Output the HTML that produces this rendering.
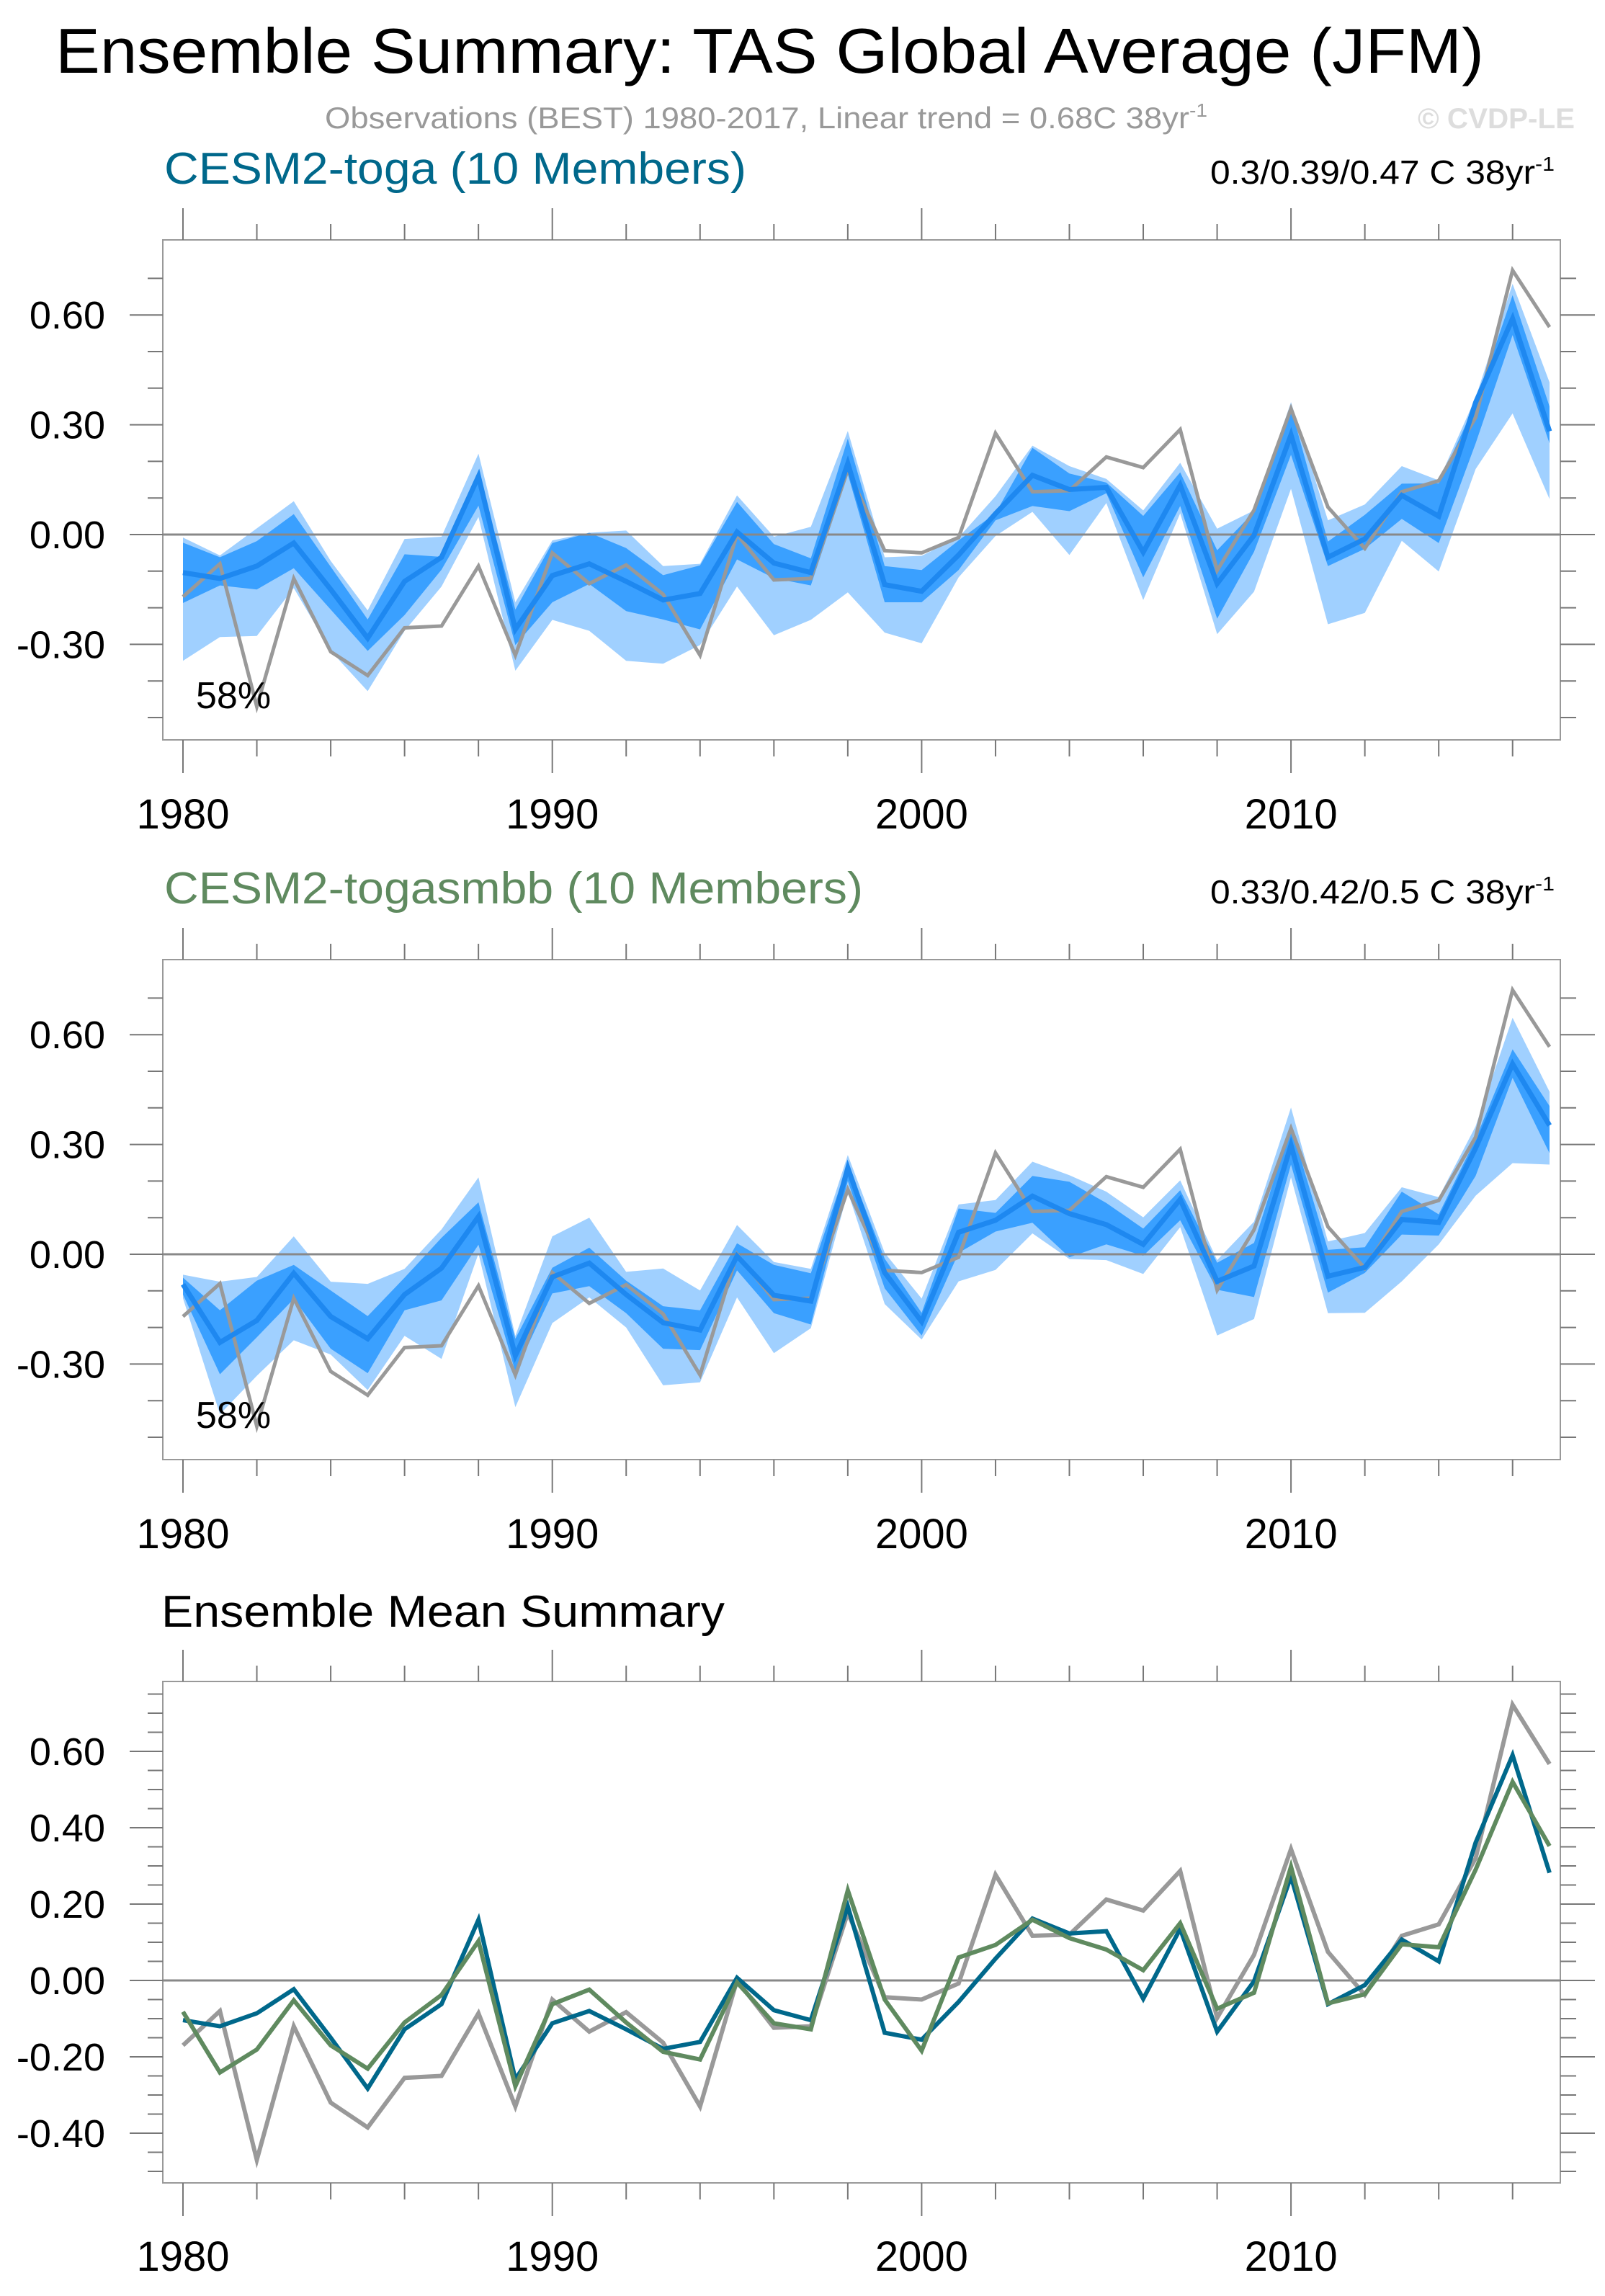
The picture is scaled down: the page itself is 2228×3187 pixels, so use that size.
<!DOCTYPE html>
<html><head><meta charset="utf-8"><title>Ensemble Summary: TAS Global Average (JFM)</title>
<style>html,body{margin:0;padding:0;background:#fff;}svg{display:block;font-family:"Liberation Sans",sans-serif;}</style>
</head><body>
<svg id="chart" width="2228" height="3187" viewBox="0 0 2228 3187" xmlns="http://www.w3.org/2000/svg">
<text x="77" y="101" font-size="88" textLength="1983" lengthAdjust="spacingAndGlyphs">Ensemble Summary: TAS Global Average (JFM)</text>
<text x="451" y="178" font-size="42" fill="#999" textLength="1225" lengthAdjust="spacingAndGlyphs">Observations (BEST) 1980-2017, Linear trend = 0.68C 38yr<tspan dy="-16" font-size="26">-1</tspan></text>
<text x="1968" y="178" font-size="40" font-weight="bold" fill="#ddd" textLength="218" lengthAdjust="spacingAndGlyphs">© CVDP-LE</text>
<text x="228" y="255" font-size="62" fill="#00688b" textLength="808" lengthAdjust="spacingAndGlyphs">CESM2-toga (10 Members)</text>
<text x="1680" y="255" font-size="46" textLength="478" lengthAdjust="spacingAndGlyphs">0.3/0.39/0.47 C 38yr<tspan dy="-18" font-size="28">-1</tspan></text>
<text x="228" y="1254" font-size="62" fill="#5f8a5f" textLength="970" lengthAdjust="spacingAndGlyphs">CESM2-togasmbb (10 Members)</text>
<text x="1680" y="1254" font-size="46" textLength="478" lengthAdjust="spacingAndGlyphs">0.33/0.42/0.5 C 38yr<tspan dy="-18" font-size="28">-1</tspan></text>
<text x="224" y="2258" font-size="62" textLength="782" lengthAdjust="spacingAndGlyphs">Ensemble Mean Summary</text>
<g id="layer"></g>
</svg>
<script>
const years = [];
for (let y = 1980; y <= 2017; y++) years.push(y);
const obs = [-0.17,-0.08,-0.47,-0.12,-0.32,-0.385,-0.255,-0.25,-0.086,-0.33,-0.05,-0.134,-0.083,-0.163,-0.33,0.0,-0.124,-0.12,0.177,-0.044,-0.05,-0.008,0.277,0.117,0.12,0.212,0.183,0.287,-0.098,0.067,0.344,0.075,-0.038,0.117,0.147,0.32,0.722,0.567];
const togaMean = [-0.104,-0.12,-0.086,-0.023,-0.15,-0.283,-0.128,-0.062,0.159,-0.259,-0.112,-0.08,-0.128,-0.179,-0.161,0.007,-0.078,-0.104,0.194,-0.137,-0.155,-0.056,0.057,0.162,0.123,0.129,-0.048,0.135,-0.134,-0.002,0.272,-0.062,-0.012,0.107,0.05,0.361,0.59,0.282];
const smbbMean = [-0.082,-0.241,-0.181,-0.052,-0.17,-0.231,-0.11,-0.038,0.103,-0.277,-0.062,-0.024,-0.11,-0.187,-0.207,-0.005,-0.112,-0.128,0.236,-0.05,-0.184,0.06,0.093,0.159,0.111,0.081,0.027,0.15,-0.074,-0.032,0.298,-0.06,-0.036,0.095,0.087,0.29,0.52,0.352];
const togaMax = [-0.008,-0.057,0.017,0.091,-0.072,-0.207,-0.012,-0.006,0.221,-0.185,-0.016,0.005,0.011,-0.086,-0.08,0.107,-0.006,0.021,0.283,-0.062,-0.058,-0.008,0.105,0.243,0.187,0.152,0.066,0.196,0.016,0.066,0.362,0.039,0.082,0.187,0.148,0.374,0.685,0.416];
const togaQ3 = [-0.022,-0.062,-0.018,0.056,-0.088,-0.232,-0.054,-0.061,0.169,-0.205,-0.023,0.005,-0.037,-0.111,-0.084,0.089,-0.026,-0.065,0.262,-0.086,-0.097,-0.016,0.058,0.237,0.167,0.142,0.051,0.17,-0.043,0.062,0.346,-0.019,0.054,0.139,0.14,0.358,0.654,0.35];
const togaQ1 = [-0.187,-0.139,-0.15,-0.092,-0.205,-0.318,-0.22,-0.096,0.079,-0.302,-0.185,-0.135,-0.209,-0.232,-0.259,-0.068,-0.119,-0.139,0.165,-0.185,-0.185,-0.097,0.039,0.078,0.064,0.113,-0.117,0.078,-0.23,-0.047,0.218,-0.086,-0.039,0.043,-0.023,0.249,0.545,0.249];
const togaMin = [-0.345,-0.28,-0.277,-0.146,-0.318,-0.428,-0.263,-0.142,0.048,-0.372,-0.233,-0.263,-0.345,-0.353,-0.302,-0.142,-0.275,-0.233,-0.158,-0.268,-0.297,-0.117,-0.004,0.062,-0.056,0.086,-0.179,0.058,-0.272,-0.156,0.125,-0.245,-0.214,-0.017,-0.101,0.179,0.331,0.097];
const smbbMax = [-0.056,-0.075,-0.062,0.049,-0.075,-0.081,-0.04,0.068,0.21,-0.223,0.049,0.1,-0.048,-0.039,-0.099,0.08,-0.021,-0.04,0.271,0.004,-0.121,0.136,0.148,0.253,0.216,0.171,0.101,0.202,-0.016,0.089,0.401,0.035,0.058,0.183,0.156,0.35,0.646,0.444];
const smbbQ3 = [-0.064,-0.153,-0.072,-0.029,-0.099,-0.169,-0.064,0.045,0.142,-0.231,-0.037,0.018,-0.072,-0.142,-0.153,0.03,-0.029,-0.052,0.247,-0.012,-0.16,0.125,0.113,0.214,0.198,0.14,0.07,0.175,-0.023,0.031,0.35,0.012,0.019,0.171,0.109,0.315,0.56,0.405];
const smbbQ1 = [-0.11,-0.328,-0.227,-0.122,-0.258,-0.325,-0.153,-0.126,0.026,-0.321,-0.107,-0.087,-0.161,-0.258,-0.262,-0.044,-0.161,-0.192,0.2,-0.093,-0.222,0.004,0.062,0.086,-0.008,0.027,-0.004,0.093,-0.097,-0.117,0.245,-0.105,-0.051,0.054,0.051,0.214,0.482,0.276];
const smbbMin = [-0.12,-0.437,-0.332,-0.235,-0.274,-0.371,-0.223,-0.286,0.002,-0.418,-0.188,-0.118,-0.2,-0.358,-0.35,-0.118,-0.27,-0.202,0.17,-0.136,-0.233,-0.074,-0.043,0.057,-0.013,-0.016,-0.054,0.074,-0.222,-0.177,0.21,-0.161,-0.16,-0.074,0.027,0.16,0.249,0.245];
const yearTicks = [1980,1990,2000,2010];
const ticks12 = [-0.3,0,0.3,0.6];
const ticks3 = [-0.4,-0.2,0,0.2,0.4,0.6];

const NS = "http://www.w3.org/2000/svg";
const layer = document.getElementById('layer');
const X0 = 226, X1 = 2166;
function xs(yr){ return 254 + (yr - 1980) * 51.27; }
function mk(tag, attrs, parent){
  const e = document.createElementNS(NS, tag);
  for (const k in attrs) e.setAttribute(k, attrs[k]);
  (parent || layer).appendChild(e);
  return e;
}
function pts(vals, ys){ return vals.map((v,i)=> xs(years[i]).toFixed(1)+','+ys(v).toFixed(1)).join(' '); }
function band(hi, lo, ys){
  const a = hi.map((v,i)=> xs(years[i]).toFixed(1)+','+ys(v).toFixed(1));
  const b = lo.map((v,i)=> xs(years[i]).toFixed(1)+','+ys(v).toFixed(1)).reverse();
  return a.concat(b).join(' ');
}

function panel(p){
  const g = mk('g', {});
  
  
  const ys = v => p.zero - v * p.ppu;
  const box = mk('rect', {x:X0, y:p.top, width:X1-X0, height:p.bottom-p.top, fill:'none', stroke:'#999', 'stroke-width':2}, g);
  
  
  for (let k = 0; ; k++){
    const v = Math.round((p.minorStart + k*p.minorStep)*1000)/1000;
    if (v > p.minorEnd + 1e-6) break;
    const y = ys(v);
    const isMajor = p.major.some(m => Math.abs(m - v) < 1e-6);
    const t1 = mk('line', {x1: isMajor?180:205, x2:X0, y1:y, y2:y, stroke:'#777', 'stroke-width':2}, g);
    
    
    const t2 = mk('line', {x1:X1, x2: isMajor?2214:2188, y1:y, y2:y, stroke:'#777', 'stroke-width':2}, g);
    
    
  }
  p.major.forEach(v => {
    const t = mk('text', {x:146, y:ys(v)+19, 'font-size':54, 'text-anchor':'end'}, g);
    t.textContent = v.toFixed(2);
    
    
  });
  for (let yr = 1980; yr <= 2017; yr += 2){
    const x = xs(yr);
    const isMajor = yr % 10 === 0;
    const a = mk('line', {x1:x, x2:x, y1:p.top - (isMajor?44:22), y2:p.top, stroke:'#777', 'stroke-width':2}, g);
    
    
    const b = mk('line', {x1:x, x2:x, y1:p.bottom, y2:p.bottom + (isMajor?46:23), stroke:'#777', 'stroke-width':2}, g);
    
    
  }
  yearTicks.forEach(yr => {
    const t = mk('text', {x:xs(yr), y:p.labelY, 'font-size':58, 'text-anchor':'middle'}, g);
    t.textContent = yr;
    
    
  });
  if (p.max){
    const l = mk('polygon', {points: band(p.max, p.min, ys), fill:'#a0d0ff'}, g);
    
    
    const d = mk('polygon', {points: band(p.q3, p.q1, ys), fill:'#3aa0ff'}, g);
    
    
  }
  const z = mk('line', {x1:X0, x2:X1, y1:ys(0), y2:ys(0), stroke:'#888', 'stroke-width':3}, g);
  
  
  p.lines.forEach(L => {
    const pl = mk('polyline', {points: pts(L.vals, ys), fill:'none', stroke:L.color, 'stroke-width':L.w, 'stroke-linejoin':'miter'}, g);
    
    
  });
  if (p.pct){
    const t = mk('text', {x:272, y:p.top + 650, 'font-size':52}, g);
    t.textContent = p.pct;
    
    
  }
}

panel({name:'panel-cesm2-toga', top:333, bottom:1027, zero:742, ppu:508, major:ticks12, minorStart:-0.5, minorEnd:0.7, minorStep:0.1, labelY:1150,
  max:togaMax, q3:togaQ3, q1:togaQ1, min:togaMin, pct:'58%',
  lines:[{vals:obs, color:'#999', w:5, name:'observations-line'},{vals:togaMean, color:'#1e88f0', w:7, name:'toga-ensemble-mean-line'}]});
panel({name:'panel-cesm2-togasmbb', top:1332, bottom:2026, zero:1741, ppu:508, major:ticks12, minorStart:-0.5, minorEnd:0.7, minorStep:0.1, labelY:2149,
  max:smbbMax, q3:smbbQ3, q1:smbbQ1, min:smbbMin, pct:'58%',
  lines:[{vals:obs, color:'#999', w:5, name:'observations-line'},{vals:smbbMean, color:'#1e88f0', w:7, name:'togasmbb-ensemble-mean-line'}]});
panel({name:'panel-ensemble-mean-summary', top:2334, bottom:3030, zero:2749, ppu:530, major:ticks3, minorStart:-0.5, minorEnd:0.75, minorStep:0.05, labelY:3152,
  lines:[{vals:obs, color:'#999', w:6, name:'observations-line'},{vals:togaMean, color:'#00688b', w:6, name:'toga-mean-line'},{vals:smbbMean, color:'#5f8a5f', w:6, name:'togasmbb-mean-line'}]});
</script>
</body></html>
